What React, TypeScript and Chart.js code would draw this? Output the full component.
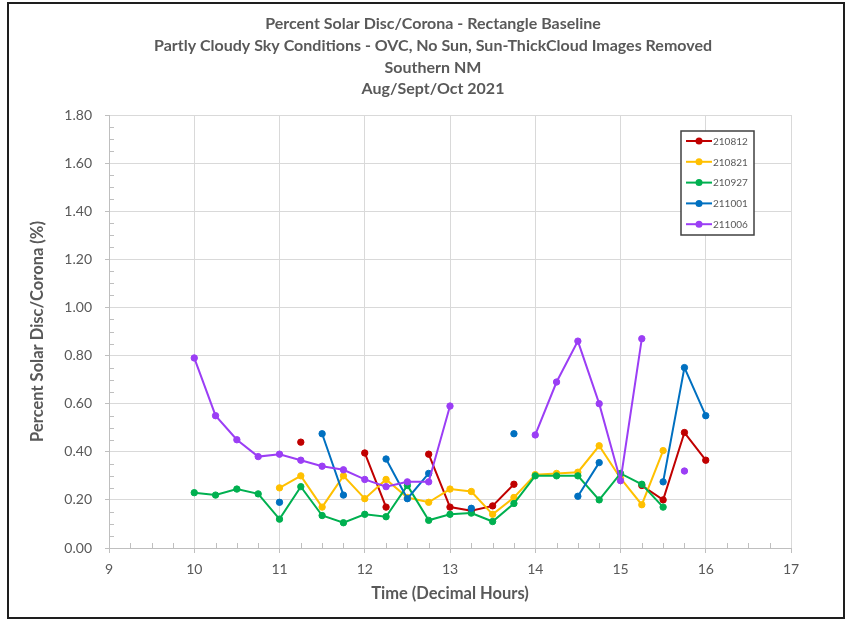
import { useEffect, useRef } from "react";
import { Chart, registerables } from "chart.js";

Chart.register(...registerables);

// Sample times (decimal hours)
const times = [
  10, 10.25, 10.5, 10.75, 11, 11.25, 11.5, 11.75, 12, 12.25, 12.5, 12.75, 13,
  13.25, 13.5, 13.75, 14, 14.25, 14.5, 14.75, 15, 15.25, 15.5, 15.75, 16,
];

// Percent solar disc / corona for each observing day (null = image removed)
const s210812 = [
  null, null, null, null, null, 0.44, null, null, 0.395, 0.17, null, 0.39, 0.17,
  0.155, 0.175, 0.265, null, null, null, null, null, 0.26, 0.2, 0.48, 0.365,
];
const s210821 = [
  null, null, null, null, 0.25, 0.3, 0.17, 0.3, 0.205, 0.285, 0.21, 0.19, 0.245,
  0.235, 0.14, 0.21, 0.305, 0.31, 0.315, 0.425, 0.29, 0.18, 0.405, null, null,
];
const s210927 = [
  0.23, 0.22, 0.245, 0.225, 0.12, 0.255, 0.135, 0.105, 0.14, 0.13, 0.26, 0.115,
  0.14, 0.145, 0.11, 0.185, 0.3, 0.3, 0.3, 0.2, 0.31, 0.265, 0.17, null, null,
];
const s211001 = [
  null, null, null, null, 0.19, null, 0.475, 0.22, null, 0.37, 0.205, 0.31, null,
  0.165, null, 0.475, null, null, 0.215, 0.355, null, null, 0.275, 0.75, 0.55,
];
const s211006 = [
  0.79, 0.55, 0.45, 0.38, 0.39, 0.365, 0.34, 0.325, 0.285, 0.255, 0.275, 0.275,
  0.59, null, null, null, 0.47, 0.69, 0.86, 0.6, 0.28, 0.87, null, 0.32, null,
];

const seriesLabels = ["210812", "210821", "210927", "211001", "211006"];
const seriesValues = [s210812, s210821, s210927, s211001, s211006];
const seriesColors = ["#c00000", "#ffc000", "#00b050", "#0070c0", "#9b3ef5"];

const titleLines = [
  "Percent Solar Disc/Corona - Rectangle Baseline",
  "Partly Cloudy Sky Conditions - OVC, No Sun, Sun-ThickCloud Images Removed",
  "Southern NM",
  "Aug/Sept/Oct 2021",
];

const FONT = "Lato, 'Open Sans', sans-serif";
const TEXT = "#595959";

const titlePlugin = {
  id: "stackedTitle",
  afterDraw(chart: any) {
    const { ctx } = chart;
    ctx.save();
    ctx.fillStyle = TEXT;
    ctx.font = `bold 16px ${FONT}`;
    ctx.textAlign = "center";
    ctx.textBaseline = "middle";
    titleLines.forEach((line, i) => ctx.fillText(line, 433, 24 + i * 21.7));
    ctx.restore();
  },
};

const minorTicksPlugin = {
  id: "minorTicks",
  beforeDatasetsDraw(chart: any) {
    const { ctx, chartArea, scales } = chart;
    const x = scales.x;
    const y = scales.y;
    ctx.save();
    ctx.strokeStyle = "#bfbfbf";
    ctx.lineWidth = 1;
    ctx.beginPath();
    for (let i = 1; i < 36; i++) {
      if (i % 4 === 0) continue;
      const py = Math.round(y.getPixelForValue(i * 0.05)) + 0.5;
      ctx.moveTo(chartArea.left, py);
      ctx.lineTo(chartArea.left + 5, py);
    }
    for (let i = 1; i < 32; i++) {
      if (i % 4 === 0) continue;
      const px = Math.round(x.getPixelForValue(9 + i * 0.25)) + 0.5;
      ctx.moveTo(px, chartArea.bottom);
      ctx.lineTo(px, chartArea.bottom - 5);
    }
    ctx.stroke();
    ctx.restore();
  },
};

const legendPlugin = {
  id: "boxLegend",
  afterDraw(chart: any) {
    const { ctx } = chart;
    const bx = 681;
    const by = 131;
    const bw = 73;
    const bh = 104;
    ctx.save();
    ctx.fillStyle = "#ffffff";
    ctx.fillRect(bx, by, bw, bh);
    ctx.strokeStyle = "#404040";
    ctx.lineWidth = 1.5;
    ctx.strokeRect(bx, by, bw, bh);
    ctx.font = `10px ${FONT}`;
    ctx.textBaseline = "middle";
    ctx.textAlign = "left";
    seriesLabels.forEach((label, i) => {
      const cy = by + 10 + i * 20.8;
      const c = seriesColors[i];
      ctx.strokeStyle = c;
      ctx.lineWidth = 2;
      ctx.beginPath();
      ctx.moveTo(bx + 5, cy);
      ctx.lineTo(bx + 31, cy);
      ctx.stroke();
      ctx.fillStyle = c;
      ctx.beginPath();
      ctx.arc(bx + 18, cy, 3.5, 0, Math.PI * 2);
      ctx.fill();
      ctx.fillStyle = TEXT;
      ctx.fillText(label, bx + 32, cy + 0.5);
    });
    ctx.restore();
  },
};

export default function App() {
  const canvasRef = useRef<HTMLCanvasElement>(null);

  useEffect(() => {
    const canvas = canvasRef.current;
    if (!canvas) return;
    const datasets = seriesLabels.map((label, i) => ({
      label,
      data: times.map((t, j) => ({ x: t, y: seriesValues[i][j] })),
      borderColor: seriesColors[i],
      backgroundColor: seriesColors[i],
      pointBackgroundColor: seriesColors[i],
      pointBorderColor: seriesColors[i],
      borderWidth: 2,
      pointRadius: 3.2,
      pointBorderWidth: 1,
      spanGaps: false,
      tension: 0,
      order: seriesLabels.length - i,
    }));

    const chart = new Chart(canvas, {
      type: "line",
      data: { datasets },
      plugins: [minorTicksPlugin, titlePlugin, legendPlugin],
      options: {
        responsive: false,
        animation: false,
        devicePixelRatio: 1,
        layout: { padding: { left: 0, top: 115, right: 56, bottom: 0 } },
        plugins: {
          legend: { display: false },
          title: { display: false },
          tooltip: { enabled: false },
        },
        scales: {
          x: {
            type: "linear",
            min: 9,
            max: 17,
            ticks: {
              stepSize: 1,
              color: TEXT,
              font: { family: FONT, size: 14 },
              padding: 8,
              maxRotation: 0,
            },
            grid: {
              color: "#d9d9d9",
              tickColor: "#bfbfbf",
              tickLength: 5,
              lineWidth: 1,
            },
            border: { color: "#bfbfbf", width: 1 },
            title: {
              display: true,
              text: "Time (Decimal Hours)",
              color: TEXT,
              font: { family: FONT, size: 16.5, weight: "bold" },
              padding: { top: 0, bottom: 15 },
            },
            afterFit(scale: any) {
              scale.height = 71;
            },
          },
          y: {
            type: "linear",
            min: 0,
            max: 1.8,
            ticks: {
              stepSize: 0.2,
              color: TEXT,
              font: { family: FONT, size: 14 },
              padding: 13,
              callback: (v: any) => Number(v).toFixed(2),
            },
            grid: {
              color: "#d9d9d9",
              tickColor: "#bfbfbf",
              tickLength: 4,
              lineWidth: 1,
            },
            border: { color: "#bfbfbf", width: 1 },
            title: {
              display: true,
              text: "Percent Solar Disc/Corona (%)",
              color: TEXT,
              font: { family: FONT, size: 16.5, weight: "bold" },
              padding: { top: 28, bottom: 0 },
            },
            afterFit(scale: any) {
              scale.width = 109;
            },
          },
        },
      },
    } as any);

    return () => chart.destroy();
  }, []);

  return (
    <div
      style={{
        position: "fixed",
        left: 0,
        top: 0,
        width: 847,
        height: 619,
        background: "#ffffff",
      }}
    >
      <canvas
        ref={canvasRef}
        width={847}
        height={619}
        style={{ position: "absolute", left: 0, top: 0 }}
      />
      <div
        style={{
          position: "absolute",
          left: 7,
          top: 2,
          width: 838,
          height: 617,
          border: "2px solid #1e1e1e",
          boxSizing: "border-box",
          pointerEvents: "none",
        }}
      />
    </div>
  );
}
